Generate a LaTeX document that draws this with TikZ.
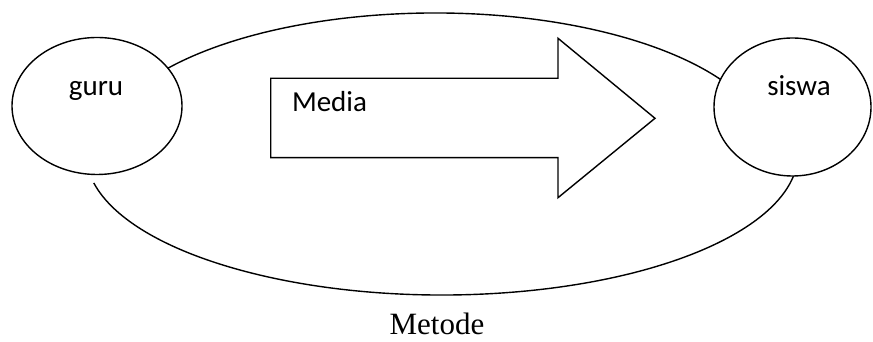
\documentclass[tikz,border=0pt]{standalone}
\usepackage{fontspec}
\setmainfont{Carlito}
\newfontfamily\serifface{Liberation Serif}
\usetikzlibrary{shapes.geometric}
\begin{document}
\begin{tikzpicture}[x=1pt,y=1pt,
  line/.style={draw=black,line width=1.4pt},
  bubble/.style={ellipse,draw=black,line width=1.4pt,fill=white,inner sep=0pt},
  lbl/.style={anchor=base,inner sep=0pt,font=\fontsize{29}{34}\selectfont}]
\useasboundingbox (0,0) rectangle (873,342);
% outer loop (Metode)
\draw[line] ([shift={(435,188.5)}]150:336pt and 140.5pt) arc[start angle=150,end angle=25,x radius=336pt,y radius=140.5pt];
\draw[line] ([shift={(442,188.5)}]192:356pt and 141.5pt) arc[start angle=192,end angle=355,x radius=356pt,y radius=141.5pt];
% actors
\node[bubble,minimum width=170pt,minimum height=137pt] (guru) at (97,236) {};
\node[bubble,minimum width=157pt,minimum height=138pt] (siswa) at (792.5,235) {};
% media arrow
\draw[line,line join=miter] (270.7,263.7) -- (558,263.7) -- (558,303.7) -- (655,223.7) -- (558,144.3) -- (558,184.3) -- (270.7,184.3) -- cycle;
% texts
\node[lbl] (gurutext) at (96,246) {guru};
\node[lbl] (siswatext) at (799,246) {siswa};
\node[lbl] (mediatext) at (329.5,230) {Media};
\node[anchor=base,inner sep=0pt,font=\serifface\fontsize{31}{36}\selectfont] (metode) at (437,7) {Metode};
\end{tikzpicture}
\end{document}
